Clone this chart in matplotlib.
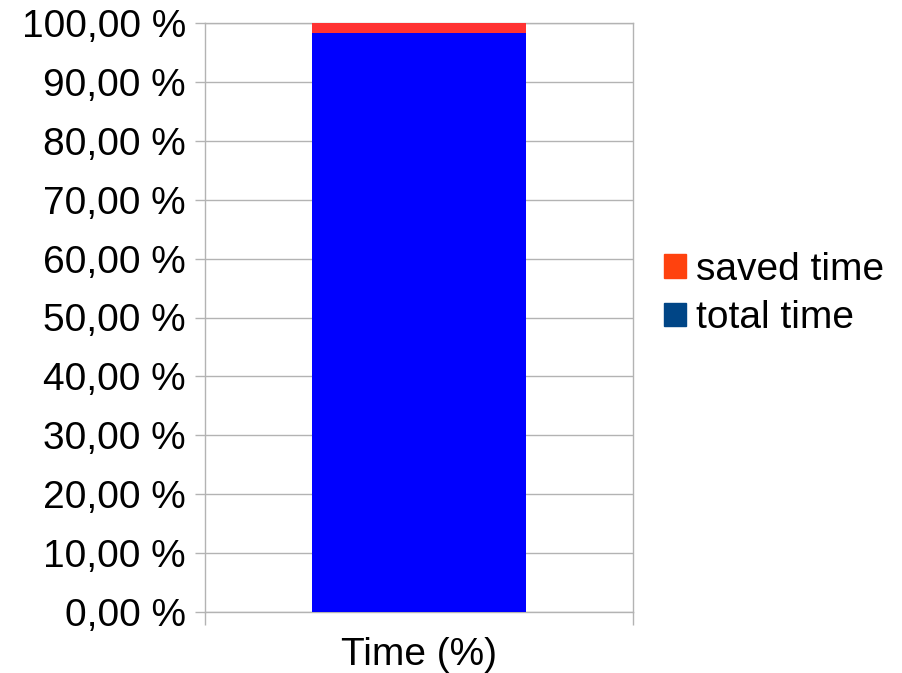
import matplotlib
matplotlib.use("Agg")
import matplotlib.pyplot as plt
from matplotlib.patches import Patch

plt.rcParams['font.family'] = ['Liberation Sans', 'DejaVu Sans']

categories = ['Time (%)']
total_time = [98.3]
saved_time = [1.7]
y_ticks = [0, 10, 20, 30, 40, 50, 60, 70, 80, 90, 100]
y_labels = ['%d,00 %%' % v for v in y_ticks]

fig = plt.figure(figsize=(9.03, 6.73), dpi=100)
ax = fig.add_axes([205 / 903, 1 - 612 / 673, 428 / 903, 589 / 673])

x = range(len(categories))
ax.bar(x, total_time, width=0.5, color='#0000ff', zorder=3)
ax.bar(x, saved_time, width=0.5, bottom=total_time, color='#ff3333', zorder=3)

ax.set_xlim(-0.5, 0.5)
ax.set_ylim(0, 100)
ax.set_yticks(y_ticks)
ax.set_yticklabels(y_labels, fontsize=28)
ax.set_xticks([-0.5, 0.5])
ax.set_xticklabels(['', ''])
ax.text(0, -0.073, categories[0], transform=ax.get_xaxis_transform(),
        ha='center', va='center', fontsize=28)

ax.grid(axis='y', color='#b3b3b3', linewidth=1, zorder=0)
for s in ax.spines.values():
    s.set_color('#b3b3b3')
    s.set_linewidth(1)
ax.tick_params(axis='y', length=7.2, width=1, color='#b3b3b3', pad=6.5)
ax.tick_params(axis='x', length=9.4, width=1, color='#b3b3b3')

handles = [Patch(color='#ff420e', label='saved time'),
           Patch(color='#004586', label='total time')]
fig.legend(handles=handles, loc='center left', bbox_to_anchor=(645 / 903, 1 - 294 / 673),
           frameon=False, fontsize=28, handlelength=0.55, handleheight=0.55,
           handletextpad=0.25, labelspacing=0.33, borderpad=0)

fig.savefig('out.png', dpi=100)
